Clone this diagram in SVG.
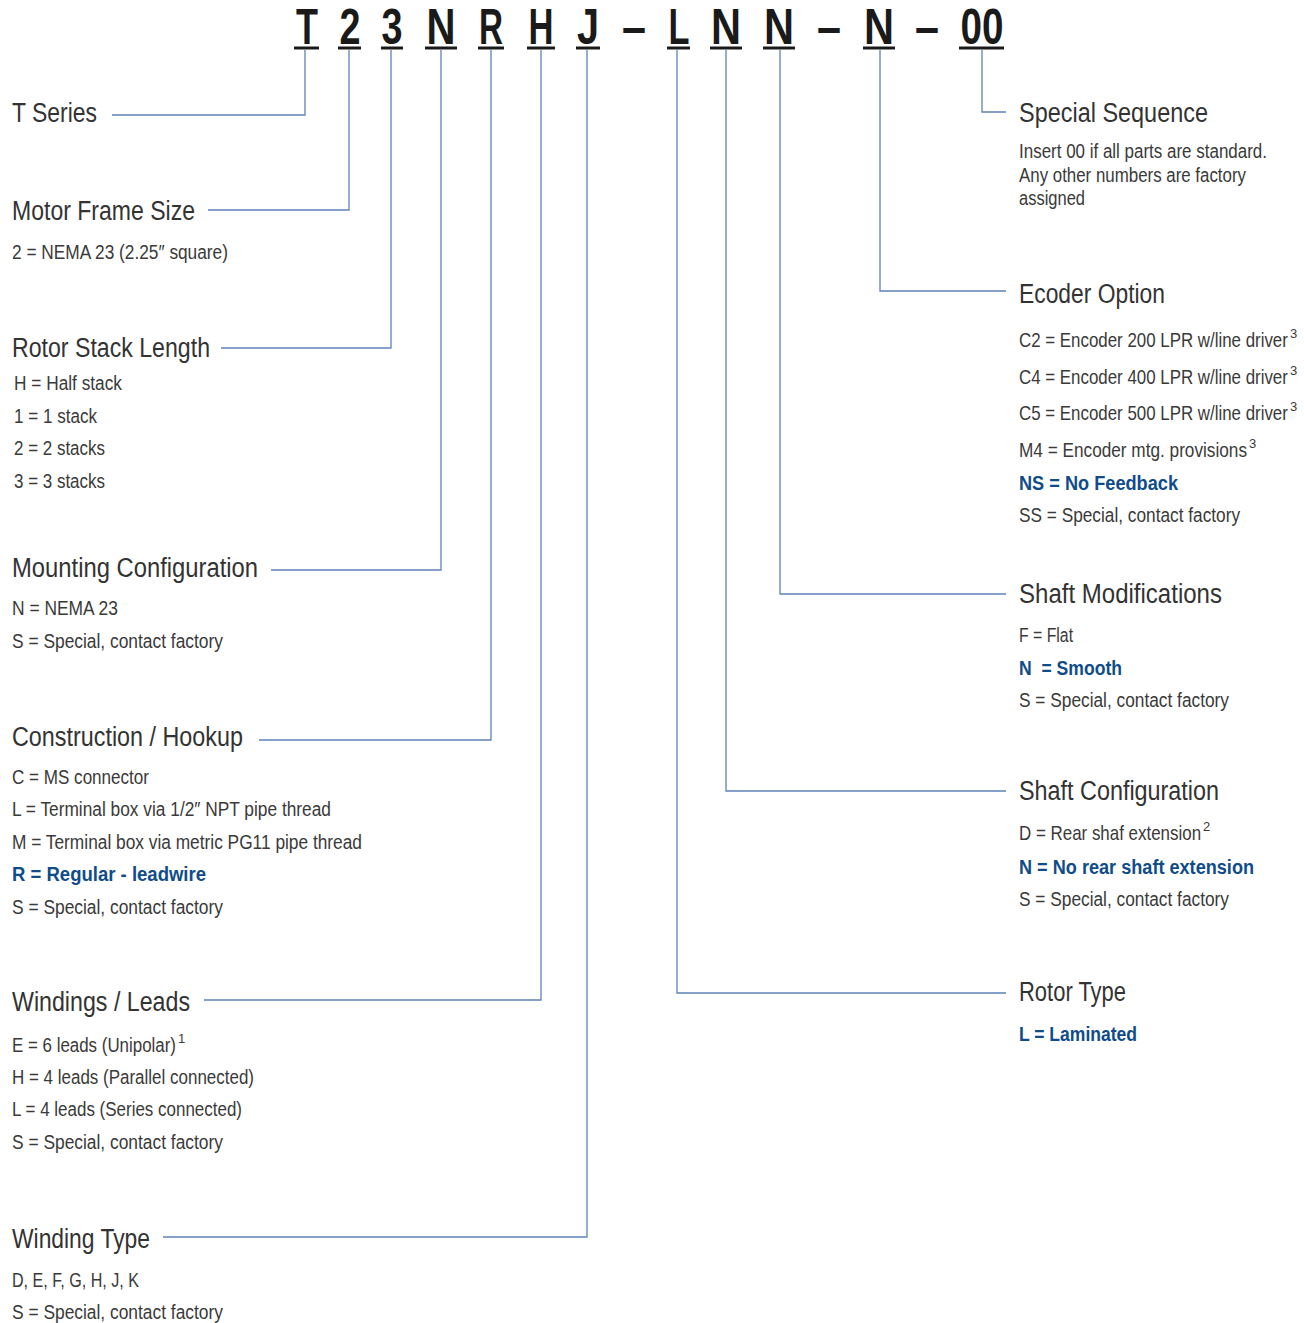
<svg xmlns="http://www.w3.org/2000/svg" width="1304" height="1323" viewBox="0 0 1304 1323">
<style>
.code{font-family:"Liberation Sans",Arial,sans-serif;font-weight:bold;font-size:50px;fill:#1a1a1a;text-anchor:middle}
.ul{stroke:#1a1a1a;stroke-width:3}
.t{font-family:"Liberation Sans",Arial,sans-serif;font-size:27px;fill:#333}
.b{font-family:"Liberation Sans",Arial,sans-serif;font-size:21px;fill:#3a3a3a}
.hb{font-family:"Liberation Sans",Arial,sans-serif;font-size:21px;font-weight:bold;fill:#0f4c8a;white-space:pre}
.sup{font-family:"Liberation Sans",Arial,sans-serif;font-size:13px;fill:#3a3a3a}
.c{fill:none;stroke:#5f82b8;stroke-width:1.3}
</style>
<rect width="1304" height="1323" fill="#fff"/>
<g id="code">
<text class="code" x="307" y="44" textLength="22" lengthAdjust="spacingAndGlyphs">T</text>
<text class="code" x="350" y="44" textLength="21" lengthAdjust="spacingAndGlyphs">2</text>
<text class="code" x="392" y="44" textLength="21" lengthAdjust="spacingAndGlyphs">3</text>
<text class="code" x="441" y="44" textLength="29" lengthAdjust="spacingAndGlyphs">N</text>
<text class="code" x="491" y="44" textLength="24" lengthAdjust="spacingAndGlyphs">R</text>
<text class="code" x="541" y="44" textLength="25" lengthAdjust="spacingAndGlyphs">H</text>
<text class="code" x="588" y="44" textLength="22" lengthAdjust="spacingAndGlyphs">J</text>
<text class="code" x="634" y="44" textLength="24" lengthAdjust="spacingAndGlyphs">–</text>
<text class="code" x="679" y="44" textLength="21" lengthAdjust="spacingAndGlyphs">L</text>
<text class="code" x="726" y="44" textLength="30" lengthAdjust="spacingAndGlyphs">N</text>
<text class="code" x="779" y="44" textLength="30" lengthAdjust="spacingAndGlyphs">N</text>
<text class="code" x="829" y="44" textLength="24" lengthAdjust="spacingAndGlyphs">–</text>
<text class="code" x="879" y="44" textLength="30" lengthAdjust="spacingAndGlyphs">N</text>
<text class="code" x="927" y="44" textLength="24" lengthAdjust="spacingAndGlyphs">–</text>
<text class="code" x="982" y="44" textLength="43" lengthAdjust="spacingAndGlyphs">00</text>
<line class="ul" x1="294" y1="48" x2="319" y2="48"/>
<line class="ul" x1="338" y1="48" x2="361" y2="48"/>
<line class="ul" x1="381" y1="48" x2="403" y2="48"/>
<line class="ul" x1="425" y1="48" x2="457" y2="48"/>
<line class="ul" x1="478" y1="48" x2="504" y2="48"/>
<line class="ul" x1="527" y1="48" x2="555" y2="48"/>
<line class="ul" x1="576" y1="48" x2="600" y2="48"/>
<line class="ul" x1="667" y1="48" x2="690" y2="48"/>
<line class="ul" x1="710" y1="48" x2="742" y2="48"/>
<line class="ul" x1="763" y1="48" x2="795" y2="48"/>
<line class="ul" x1="863" y1="48" x2="895" y2="48"/>
<line class="ul" x1="959" y1="48" x2="1004" y2="48"/>
</g>
<g id="connectors">
<polyline class="c" points="305,50 305,115 112,115"/>
<polyline class="c" points="349,50 349,210 208,210"/>
<polyline class="c" points="391,50 391,348 221,348"/>
<polyline class="c" points="441,50 441,570 271,570"/>
<polyline class="c" points="491,50 491,740 259,740"/>
<polyline class="c" points="541,50 541,1000 204,1000"/>
<polyline class="c" points="587,50 587,1237 163,1237"/>
<polyline class="c" points="982,50 982,112 1006,112"/>
<polyline class="c" points="880,50 880,291 1006,291"/>
<polyline class="c" points="780,50 780,594 1006,594"/>
<polyline class="c" points="726,50 726,791 1006,791"/>
<polyline class="c" points="677,50 677,993 1006,993"/>
</g>
<g id="t-series">
<text class="t" transform="translate(12 122) scale(0.87 1)" textLength="97.7" lengthAdjust="spacingAndGlyphs">T Series</text>
</g>
<g id="motor-frame-size">
<text class="t" transform="translate(12 220) scale(0.87 1)" textLength="210.3" lengthAdjust="spacingAndGlyphs">Motor Frame Size</text>
<text class="b" transform="translate(12 259) scale(0.83 1)" textLength="260.2" lengthAdjust="spacingAndGlyphs">2 = NEMA 23 (2.25″ square)</text>
</g>
<g id="rotor-stack-length">
<text class="t" transform="translate(12 357) scale(0.87 1)" textLength="227.6" lengthAdjust="spacingAndGlyphs">Rotor Stack Length</text>
<text class="b" transform="translate(14 390) scale(0.83 1)" textLength="130.1" lengthAdjust="spacingAndGlyphs">H = Half stack</text>
<text class="b" transform="translate(14 423) scale(0.83 1)" textLength="100" lengthAdjust="spacingAndGlyphs">1 = 1 stack</text>
<text class="b" transform="translate(14 455) scale(0.83 1)" textLength="109.6" lengthAdjust="spacingAndGlyphs">2 = 2 stacks</text>
<text class="b" transform="translate(14 488) scale(0.83 1)" textLength="109.6" lengthAdjust="spacingAndGlyphs">3 = 3 stacks</text>
</g>
<g id="mounting-configuration">
<text class="t" transform="translate(12 577) scale(0.87 1)" textLength="282.8" lengthAdjust="spacingAndGlyphs">Mounting Configuration</text>
<text class="b" transform="translate(12 615) scale(0.83 1)" textLength="127.7" lengthAdjust="spacingAndGlyphs">N = NEMA 23</text>
<text class="b" transform="translate(12 648) scale(0.83 1)" textLength="254.2" lengthAdjust="spacingAndGlyphs">S = Special, contact factory</text>
</g>
<g id="construction-hookup">
<text class="t" transform="translate(12 746) scale(0.87 1)" textLength="265.5" lengthAdjust="spacingAndGlyphs">Construction / Hookup</text>
<text class="b" transform="translate(12 784) scale(0.83 1)" textLength="165.1" lengthAdjust="spacingAndGlyphs">C = MS connector</text>
<text class="b" transform="translate(12 816) scale(0.83 1)" textLength="384.3" lengthAdjust="spacingAndGlyphs">L = Terminal box via 1/2″ NPT pipe thread</text>
<text class="b" transform="translate(12 849) scale(0.83 1)" textLength="421.7" lengthAdjust="spacingAndGlyphs">M = Terminal box via metric PG11 pipe thread</text>
<text class="hb" transform="translate(12 881) scale(0.86 1)" textLength="225.6" lengthAdjust="spacingAndGlyphs">R = Regular - leadwire</text>
<text class="b" transform="translate(12 914) scale(0.83 1)" textLength="254.2" lengthAdjust="spacingAndGlyphs">S = Special, contact factory</text>
</g>
<g id="windings-leads">
<text class="t" transform="translate(12 1011) scale(0.87 1)" textLength="204.6" lengthAdjust="spacingAndGlyphs">Windings / Leads</text>
<text class="b" transform="translate(12 1052) scale(0.805 1)" textLength="203.7" lengthAdjust="spacingAndGlyphs">E = 6 leads (Unipolar)</text>
<text class="sup" x="178" y="1043">1</text>
<text class="b" transform="translate(12 1084) scale(0.83 1)" textLength="291.6" lengthAdjust="spacingAndGlyphs">H = 4 leads (Parallel connected)</text>
<text class="b" transform="translate(12 1116) scale(0.83 1)" textLength="277.1" lengthAdjust="spacingAndGlyphs">L = 4 leads (Series connected)</text>
<text class="b" transform="translate(12 1149) scale(0.83 1)" textLength="254.2" lengthAdjust="spacingAndGlyphs">S = Special, contact factory</text>
</g>
<g id="winding-type">
<text class="t" transform="translate(12 1248) scale(0.87 1)" textLength="158.6" lengthAdjust="spacingAndGlyphs">Winding Type</text>
<text class="b" transform="translate(12 1287) scale(0.83 1)" textLength="153" lengthAdjust="spacingAndGlyphs">D, E, F, G, H, J, K</text>
<text class="b" transform="translate(12 1319) scale(0.83 1)" textLength="254.2" lengthAdjust="spacingAndGlyphs">S = Special, contact factory</text>
</g>
<g id="special-sequence">
<text class="t" transform="translate(1019 122) scale(0.87 1)" textLength="217.2" lengthAdjust="spacingAndGlyphs">Special Sequence</text>
<text class="b" transform="translate(1019 158) scale(0.83 1)" textLength="298.8" lengthAdjust="spacingAndGlyphs">Insert 00 if all parts are standard.</text>
<text class="b" transform="translate(1019 182) scale(0.83 1)" textLength="273.5" lengthAdjust="spacingAndGlyphs">Any other numbers are factory</text>
<text class="b" transform="translate(1019 205) scale(0.83 1)" textLength="79.5" lengthAdjust="spacingAndGlyphs">assigned</text>
</g>
<g id="encoder-option">
<text class="t" transform="translate(1019 303) scale(0.87 1)" textLength="167.8" lengthAdjust="spacingAndGlyphs">Ecoder Option</text>
<text class="b" transform="translate(1019 347) scale(0.804 1)" textLength="334.4" lengthAdjust="spacingAndGlyphs">C2 = Encoder 200 LPR w/line driver</text>
<text class="sup" x="1290" y="338">3</text>
<text class="b" transform="translate(1019 384) scale(0.804 1)" textLength="334.4" lengthAdjust="spacingAndGlyphs">C4 = Encoder 400 LPR w/line driver</text>
<text class="sup" x="1290" y="375">3</text>
<text class="b" transform="translate(1019 420) scale(0.804 1)" textLength="334.4" lengthAdjust="spacingAndGlyphs">C5 = Encoder 500 LPR w/line driver</text>
<text class="sup" x="1290" y="411">3</text>
<text class="b" transform="translate(1019 457) scale(0.819 1)" textLength="278.4" lengthAdjust="spacingAndGlyphs">M4 = Encoder mtg. provisions</text>
<text class="sup" x="1249" y="448">3</text>
<text class="hb" transform="translate(1019 490) scale(0.86 1)" textLength="184.9" lengthAdjust="spacingAndGlyphs">NS = No Feedback</text>
<text class="b" transform="translate(1019 522) scale(0.83 1)" textLength="266.3" lengthAdjust="spacingAndGlyphs">SS = Special, contact factory</text>
</g>
<g id="shaft-modifications">
<text class="t" transform="translate(1019 603) scale(0.87 1)" textLength="233.3" lengthAdjust="spacingAndGlyphs">Shaft Modifications</text>
<text class="b" transform="translate(1019 642) scale(0.83 1)" textLength="65.1" lengthAdjust="spacingAndGlyphs">F = Flat</text>
<text class="hb" transform="translate(1019 675) scale(0.86 1)" textLength="119.8" lengthAdjust="spacingAndGlyphs">N  = Smooth</text>
<text class="b" transform="translate(1019 707) scale(0.83 1)" textLength="253" lengthAdjust="spacingAndGlyphs">S = Special, contact factory</text>
</g>
<g id="shaft-configuration">
<text class="t" transform="translate(1019 800) scale(0.87 1)" textLength="229.9" lengthAdjust="spacingAndGlyphs">Shaft Configuration</text>
<text class="b" transform="translate(1019 840) scale(0.806 1)" textLength="225.9" lengthAdjust="spacingAndGlyphs">D = Rear shaf extension</text>
<text class="sup" x="1203" y="831">2</text>
<text class="hb" transform="translate(1019 874) scale(0.86 1)" textLength="273.3" lengthAdjust="spacingAndGlyphs">N = No rear shaft extension</text>
<text class="b" transform="translate(1019 906) scale(0.83 1)" textLength="253" lengthAdjust="spacingAndGlyphs">S = Special, contact factory</text>
</g>
<g id="rotor-type">
<text class="t" transform="translate(1019 1001) scale(0.87 1)" textLength="123" lengthAdjust="spacingAndGlyphs">Rotor Type</text>
<text class="hb" transform="translate(1019 1041) scale(0.86 1)" textLength="137.2" lengthAdjust="spacingAndGlyphs">L = Laminated</text>
</g>
</svg>
